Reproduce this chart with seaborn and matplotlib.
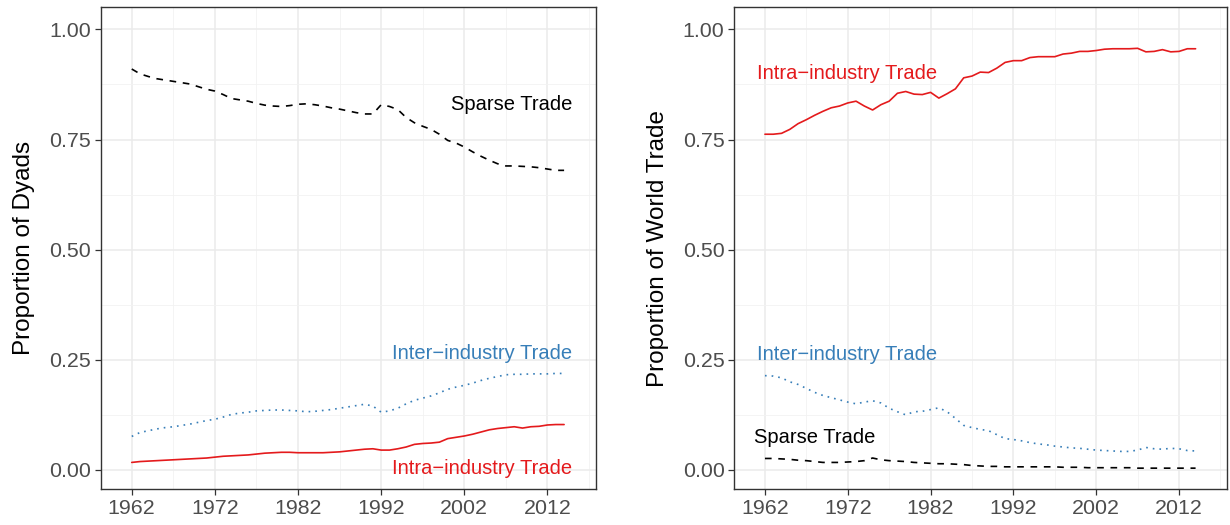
import numpy as np
import pandas as pd
import matplotlib
matplotlib.use("Agg")
import matplotlib.pyplot as plt
import seaborn as sns

# years covered by both panels
years = list(range(1962, 2015))

# left panel: proportion of dyads
dyad_sparse = [0.910, 0.899, 0.893, 0.888, 0.885, 0.882, 0.879, 0.876, 0.870, 0.864,
               0.860, 0.852, 0.843, 0.840, 0.837, 0.832, 0.828, 0.826, 0.825, 0.827,
               0.830, 0.831, 0.829, 0.826, 0.822, 0.819, 0.815, 0.811, 0.808, 0.808,
               0.829, 0.825, 0.818, 0.800, 0.788, 0.780, 0.773, 0.762, 0.748, 0.742,
               0.733, 0.722, 0.712, 0.703, 0.695, 0.690, 0.690, 0.689, 0.688, 0.686,
               0.683, 0.680, 0.680]
dyad_inter = [0.076, 0.085, 0.089, 0.093, 0.096, 0.098, 0.101, 0.104, 0.108, 0.112,
              0.115, 0.120, 0.126, 0.129, 0.131, 0.134, 0.135, 0.136, 0.136, 0.135,
              0.134, 0.132, 0.133, 0.135, 0.137, 0.140, 0.143, 0.146, 0.149, 0.145,
              0.131, 0.134, 0.140, 0.150, 0.158, 0.163, 0.168, 0.175, 0.183, 0.188,
              0.192, 0.197, 0.203, 0.208, 0.212, 0.216, 0.217, 0.217, 0.218, 0.218,
              0.218, 0.219, 0.219]
dyad_intra = [0.017, 0.019, 0.020, 0.021, 0.022, 0.023, 0.024, 0.025, 0.026, 0.027,
              0.029, 0.031, 0.032, 0.033, 0.034, 0.036, 0.038, 0.039, 0.040, 0.040,
              0.039, 0.039, 0.039, 0.039, 0.040, 0.041, 0.043, 0.045, 0.047, 0.048,
              0.045, 0.045, 0.048, 0.052, 0.058, 0.060, 0.061, 0.063, 0.071, 0.074,
              0.077, 0.081, 0.086, 0.091, 0.094, 0.096, 0.098, 0.095, 0.098, 0.099,
              0.102, 0.103, 0.103]

# right panel: proportion of world trade
world_intra = [0.762, 0.762, 0.764, 0.773, 0.786, 0.795, 0.805, 0.814, 0.822, 0.826,
               0.833, 0.837, 0.826, 0.817, 0.829, 0.837, 0.855, 0.859, 0.853, 0.852,
               0.857, 0.844, 0.854, 0.865, 0.890, 0.894, 0.903, 0.902, 0.912, 0.925,
               0.929, 0.929, 0.936, 0.938, 0.938, 0.938, 0.944, 0.946, 0.950, 0.950,
               0.952, 0.955, 0.956, 0.956, 0.956, 0.957, 0.949, 0.950, 0.954, 0.949,
               0.950, 0.956, 0.956]
world_inter = [0.214, 0.213, 0.209, 0.200, 0.194, 0.185, 0.176, 0.169, 0.164, 0.159,
               0.154, 0.150, 0.154, 0.157, 0.152, 0.140, 0.132, 0.125, 0.132, 0.133,
               0.137, 0.141, 0.132, 0.117, 0.101, 0.096, 0.092, 0.089, 0.080, 0.071,
               0.069, 0.066, 0.062, 0.059, 0.057, 0.054, 0.052, 0.050, 0.049, 0.047,
               0.045, 0.044, 0.043, 0.042, 0.042, 0.045, 0.051, 0.048, 0.047, 0.049,
               0.048, 0.044, 0.043]
world_sparse = [0.026, 0.026, 0.025, 0.024, 0.022, 0.021, 0.019, 0.017, 0.017, 0.017,
                0.018, 0.019, 0.021, 0.027, 0.023, 0.021, 0.020, 0.019, 0.017, 0.016,
                0.015, 0.014, 0.014, 0.013, 0.012, 0.010, 0.009, 0.008, 0.008, 0.007,
                0.007, 0.007, 0.007, 0.007, 0.007, 0.007, 0.006, 0.006, 0.006, 0.005,
                0.005, 0.005, 0.005, 0.005, 0.005, 0.004, 0.004, 0.004, 0.004, 0.004,
                0.004, 0.004, 0.004]

types = ["Sparse", "Inter", "Intra"]
colors = {"Sparse": "black", "Inter": "#377EB8", "Intra": "#E41A1C"}
dashes = {"Sparse": (4, 4), "Inter": (1, 3), "Intra": ""}


def long_df(sparse, inter, intra):
    return pd.DataFrame({
        "year": years * 3,
        "value": sparse + inter + intra,
        "type": ["Sparse"] * len(years) + ["Inter"] * len(years) + ["Intra"] * len(years),
    })


df_dyad = long_df(dyad_sparse, dyad_inter, dyad_intra)
df_world = long_df(world_sparse, world_inter, world_intra)

sns.set_theme(style="white")
plt.rcParams["font.family"] = ["Liberation Sans", "DejaVu Sans"]

fig = plt.figure(figsize=(12.3, 5.25), dpi=100)
ax1 = fig.add_axes([0.0821, 0.068, 0.4022, 0.918])
ax2 = fig.add_axes([0.597, 0.068, 0.4006, 0.918])

for ax, d, ylab in [(ax1, df_dyad, "Proportion of Dyads"),
                    (ax2, df_world, "Proportion of World Trade")]:
    sns.lineplot(data=d, x="year", y="value", hue="type", style="type",
                 hue_order=types, style_order=types, palette=colors,
                 dashes=dashes, linewidth=1.2, legend=False, ax=ax)
    ax.set_xlim(1958.3, 2017.8)
    ax.set_ylim(-0.044, 1.05)
    ax.set_xticks([1962, 1972, 1982, 1992, 2002, 2012])
    ax.set_xticks([1967, 1977, 1987, 1997, 2007, 2017], minor=True)
    ax.set_yticks([0, 0.25, 0.5, 0.75, 1.0])
    ax.set_yticklabels(["0.00", "0.25", "0.50", "0.75", "1.00"])
    ax.set_yticks([0.125, 0.375, 0.625, 0.875], minor=True)
    ax.grid(True, which="major", color="#EBEBEB", linewidth=1.1)
    ax.grid(True, which="minor", color="#F2F2F2", linewidth=0.6)
    ax.set_axisbelow(True)
    ax.tick_params(axis="both", which="major", length=4, width=0.9, color="#333333",
                   labelsize=15.4, labelcolor="#4D4D4D", pad=3, bottom=True, left=True)
    ax.tick_params(axis="both", which="minor", length=0)
    for sp in ax.spines.values():
        sp.set_color("#333333")
        sp.set_linewidth(1.0)
    ax.set_xlabel("")
    ax.set_ylabel(ylab, fontsize=17.5, color="black", labelpad=10)

fs = 14.5
ax1.text(2015, 0.829, "Sparse Trade", ha="right", va="center", fontsize=fs, color="black")
ax1.text(2015, 0.265, "Inter\u2212industry Trade", ha="right", va="center", fontsize=fs, color="#377EB8")
ax1.text(2015, 0.004, "Intra\u2212industry Trade", ha="right", va="center", fontsize=fs, color="#E41A1C")

ax2.text(1961.0, 0.900, "Intra\u2212industry Trade", ha="left", va="center", fontsize=fs, color="#E41A1C")
ax2.text(1961.0, 0.263, "Inter\u2212industry Trade", ha="left", va="center", fontsize=fs, color="#377EB8")
ax2.text(1960.7, 0.074, "Sparse Trade", ha="left", va="center", fontsize=fs, color="black")

fig.savefig("out.png", dpi=100)
